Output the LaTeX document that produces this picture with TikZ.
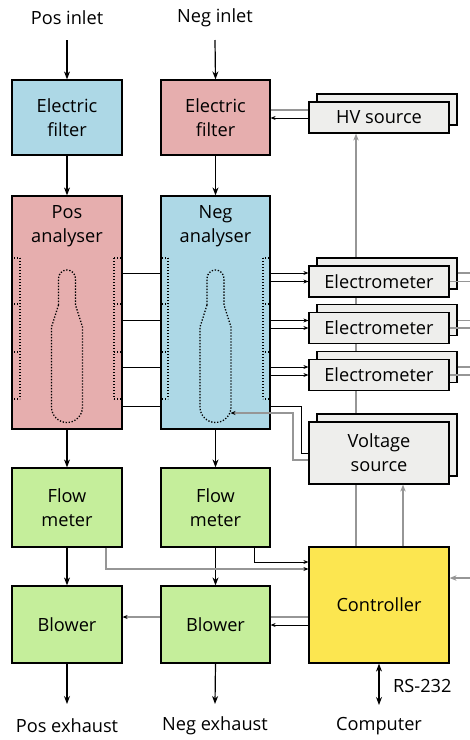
\documentclass[tikz,border=0pt]{standalone}
\usepackage{fontspec}
\setmainfont{Open Sans}
\usetikzlibrary{arrows.meta,calc}
\pgfdeclarelayer{bg}
\pgfsetlayers{bg,main}
\definecolor{pinkc}{RGB}{230,174,174}
\definecolor{lblue}{RGB}{173,216,230}
\definecolor{lgreen}{RGB}{197,238,155}
\definecolor{yel}{RGB}{252,230,80}
\definecolor{boxgray}{RGB}{238,238,236}
\definecolor{wire}{RGB}{150,150,150}
\newcommand\mycomb[2]{%
  \draw[dots] (#2,258) -- (#2,399);
  \foreach \yy in {258,304,352,399} \draw[dots] (#1,\yy) -- (#2,\yy);
}
\newcommand\mybottle[1]{%
  \draw[dots] ({#1-8.5},305) -- ({#1-8.5},278.5) arc[start angle=180,end angle=360,radius=8.5]
    -- ({#1+8.5},305) -- ({#1+15.5},327) -- ({#1+15.5},407)
    arc[start angle=0,end angle=180,radius=15.5] -- ({#1-15.5},327) -- cycle;
}
\begin{document}
\begin{tikzpicture}[x=1pt,y=-1pt,
  every node/.style={font=\fontsize{18.2}{24}\selectfont, inner sep=0pt},
  blk/.style={draw=black, line width=1.2pt, minimum width=110pt, align=center},
  stk/.style={draw=black, line width=1.2pt, fill=boxgray, minimum width=140pt, align=center},
  lbl/.style={align=center},
  flow/.style={line width=1.2pt, -{Stealth[length=8pt,width=6pt]}},
  sig/.style={line width=1pt, -{Stealth[length=5pt,width=4pt]}},
  gsig/.style={line width=1.2pt, draw=wire, -{Stealth[length=7pt,width=5.5pt]}},
  gsigb/.style={line width=1.2pt, draw=wire, -{Stealth[length=5pt,width=4pt,color=black]}},
  gline/.style={line width=1.2pt, draw=wire},
  dots/.style={line width=1.3pt, dash pattern=on 1.3pt off 1.7pt},
]
\useasboundingbox (0,0) rectangle (470,740);

% y levels and helper coordinates
\foreach \n/\v in {L110/110,L118/118,L273/273,L281/281.5,L320/320.5,L328/328,L367/367,L375/375,
                   L406/406,L413/413,L453/453,L460/460,L562/562,L569/569,L578/578,L617/617,L625/625}
  \coordinate (\n) at (0,\v);
\foreach \n/\v in {X106/106,X254/254,X356/356,X403/403,X293/293,X301/301}
  \coordinate (\n) at (\v,0);

% labels
\node[lbl] (posin) at (67,18) {Pos inlet};
\node[lbl] (negin) at (215,18) {Neg inlet};
\node[lbl] (posex) at (67,726) {Pos exhaust};
\node[lbl] (negex) at (215,726) {Neg exhaust};
\node[lbl] (comp) at (379,726) {Computer};
\node[lbl, anchor=west] (rs) at (393,686) {RS-232};
\coordinate (posinA) at (67,40);
\coordinate (neginA) at (215,40);
\coordinate (posout) at (67,704);
\coordinate (negout) at (215,704);
\coordinate (compA) at (379,705);

% column boxes
\node[blk, fill=lblue, minimum height=75pt] (posf) at (67,117.5) {Electric\\filter};
\node[blk, fill=pinkc, minimum width=109pt, minimum height=75pt] (negf) at (215.5,117.5) {Electric\\filter};
\node[blk, fill=pinkc, minimum height=233pt] (posan) at (67,312.5) {};
\node[blk, fill=lblue, minimum width=109pt, minimum height=233pt] (negan) at (215.5,312.5) {};
\node[lbl] (posant) at (67,226) {Pos\\analyser};
\node[lbl] (negant) at (215.5,226) {Neg\\analyser};
\node[blk, fill=lgreen, minimum height=79pt] (posfl) at (67,507.5) {Flow\\meter};
\node[blk, fill=lgreen, minimum width=109pt, minimum height=79pt] (negfl) at (215.5,507.5) {Flow\\meter};
\node[blk, fill=lgreen, minimum height=77pt] (posbl) at (67,624.5) {Blower};
\node[blk, fill=lgreen, minimum width=109pt, minimum height=77pt] (negbl) at (215.5,624.5) {Blower};

% right column stacked boxes
\node[stk, minimum height=31pt] (hvb) at (387,109.5) {};
\node[stk, minimum height=31pt] (hv) at (379,117.5) {HV source};
\node[stk, minimum height=31pt] (e1b) at (387,273.5) {};
\node[stk, minimum height=31pt] (e1) at (379,281.5) {Electrometer};
\node[stk, minimum height=31pt] (e2b) at (387,320) {};
\node[stk, minimum height=31pt] (e2) at (379,328) {Electrometer};
\node[stk, minimum height=31pt] (e3b) at (387,367) {};
\node[stk, minimum height=31pt] (e3) at (379,375) {Electrometer};
\node[stk, minimum height=62pt] (voltb) at (387,445) {};
\node[stk, minimum height=62pt] (volt) at (379,453) {Voltage\\source};
\node[blk, fill=yel, minimum width=140pt, minimum height=116pt] (ctrl) at (379,605) {Controller};

\coordinate (pbot) at (83,406);
\coordinate (nbot) at (230.5,413);
\coordinate (R273) at (470,273);
\coordinate (R281) at (470,281.5);
\coordinate (R320) at (470,320.5);
\coordinate (R328) at (470,328);
\coordinate (R367) at (470,367);
\coordinate (R375) at (470,375);
\coordinate (R578) at (470,578);

% lines passing behind boxes
\begin{pgfonlayer}{bg}
  \draw[gsig] (ctrl.north -| X356) -- (hv.south -| X356);
  \draw[sig] (posan.east |- L273) -- (e1.west |- L273);
  \draw[sig] (posan.east |- L320) -- (e2.west |- L320);
  \draw[sig] (posan.east |- L367) -- (e3.west |- L367);
  \draw[sig] (volt.west |- L453) -- (X301 |- L453) -- (X301 |- L406) -- (pbot);
  \draw[gsigb] (ctrl.west |- L617) -- (posbl.east |- L617);
\end{pgfonlayer}

% main flow
\draw[flow] (posinA) -- (posf.north);
\draw[flow] (neginA) -- (negf.north);
\draw[flow] (posf.south) -- (posan.north);
\draw[flow] (negf.south) -- (negan.north);
\draw[flow] (posan.south) -- (posfl.north);
\draw[flow] (negan.south) -- (negfl.north);
\draw[flow] (posfl.south) -- (posbl.north);
\draw[flow] (negfl.south) -- (negbl.north);
\draw[flow] (posbl.south) -- (posout);
\draw[flow] (negbl.south) -- (negout);
\draw[line width=1.2pt, {Stealth[length=8pt,width=6pt]}-{Stealth[length=8pt,width=6pt]}] (ctrl.south) -- (compA);

% HV source
\draw[gline] (hv.west |- L110) -- (negf.east |- L110);
\draw[sig] (hv.west |- L118) -- (negf.east |- L118);

% electrometers
\draw[sig] (negan.east |- L281) -- (e1.west |- L281);
\draw[sig] (negan.east |- L328) -- (e2.west |- L328);
\draw[sig] (negan.east |- L375) -- (e3.west |- L375);
\draw[gline] (e1b.east |- L273) -- (R273);
\draw[gline] (e1.east |- L281) -- (R281);
\draw[gline] (e2b.east |- L320) -- (R320);
\draw[gline] (e2.east |- L328) -- (R328);
\draw[gline] (e3b.east |- L367) -- (R367);
\draw[gline] (e3.east |- L375) -- (R375);

% voltage source to neg analyser
\draw[gsigb] (volt.west |- L460) -- (X293 |- L460) -- (X293 |- L413) -- (nbot);

% flow meters to controller
\draw[gsigb] (posfl.south -| X106) |- (ctrl.west |- L569);
\draw[sig] (negfl.south -| X254) |- (ctrl.west |- L562);

% controller
\draw[sig] (ctrl.west |- L625) -- (negbl.east |- L625);
\draw[gsig] (R578) -- (ctrl.east |- R578);
\draw[gsig] (ctrl.north -| X403) -- (volt.south -| X403);

% analyser internals
\mycomb{14}{20}
\mycomb{121}{114}
\mycomb{162}{168}
\mycomb{269}{263}
\mybottle{67}
\mybottle{215.5}
\end{tikzpicture}
\end{document}
